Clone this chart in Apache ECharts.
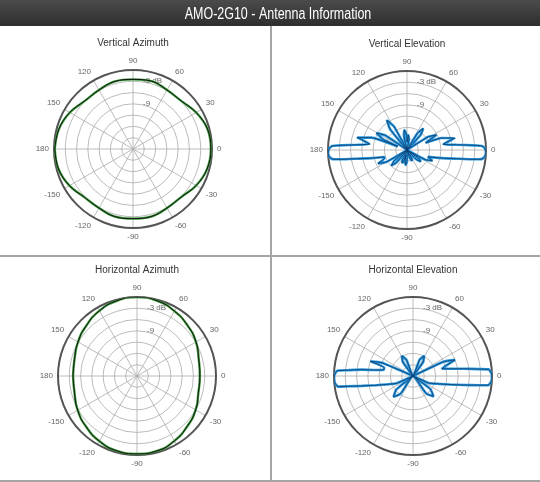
<!DOCTYPE html>
<html>
<head>
<meta charset="utf-8">
<script src="https://cdn.jsdelivr.net/npm/echarts@6/dist/echarts.min.js"></script>
<style>
html, body { margin: 0; padding: 0; background: #fff; }
#main { width: 540px; height: 482px; }
</style>
</head>
<body>
<div id="main"></div>
<script>
// azimuth plots are sampled every 15 degrees
var azAngles = [-180, -165, -150, -135, -120, -105, -90, -75, -60, -45, -30, -15,
  0, 15, 30, 45, 60, 75, 90, 105, 120, 135, 150, 165, 180]
var vaGain = [-0.2, -0.5, -1.5, -2.8, -2.9, -2.4, -2.5, -2.4, -2.9, -2.9, -1.6, -0.6,
  -0.3, -0.5, -1.6, -2.9, -2.9, -2.3, -2.5, -2.4, -2.9, -2.9, -1.6, -0.6, -0.2]
var haGain = [-4.0, -3.8, -2.8, -1.9, -1.0, -0.4, -0.3, -0.4, -1.1, -2.1, -3.0, -4.1,
  -4.3, -4.0, -2.9, -2.0, -1.1, -0.3, 0, -0.3, -1.0, -2.0, -2.9, -3.8, -4.0]

// elevation plots, lobes
var veAngles = [-180, -178, -175, -173, -172, -170, -167, -163, -160, -155, -150, -146,
  -140, -135, -130, -126, -115, -110, -105, -102, -100, -95, -90, -86, -75, -70, -65, -60, -55,
  -49, -45, -40, -35, -31, -28, -23, -18, -17, -13, -10, -8, -7, -5, -2, 1, 3, 4, 6, 9,
  14, 19, 21, 27, 32, 36, 44, 48, 53, 58, 62, 76, 80, 85, 89, 92, 97, 102, 106,
  115, 119, 124, 129, 133, 142, 146, 151, 156, 159, 161, 166, 171, 174, 176, 177, 179, 180]
var veGain = [-0.13, 0, -0.27, -1.06, -3.19, -7.71, -11.43, -14.62, -14.62, -12.49, -14.62, -21,
  -16.61, -15.15, -16.61, -21, -18.21, -17.28, -18.21, -19.67, -18.08, -17.01, -18.08, -21, -21, -18.61, -17.81, -18.61, -21,
  -21, -17.41, -16.22, -17.41, -21, -15.52, -13.69, -15.15, -14.62, -11.43, -7.71, -3.19, -1.06, -0.27, 0, -0.27, -1.06, -3.19, -7.71, -11.22,
  -7.98, -11.22, -15.68, -12.23, -14.43, -21, -21, -15.68, -13.82, -15.68, -21, -21, -18.08, -17.01, -18.87, -17.01, -15.68, -17.01, -21,
  -21, -13.82, -11.43, -13.82, -21, -21, -14.09, -11.7, -14.09, -18.34, -10.9, -7.44, -10.9, -7.71, -3.19, -1.06, -0.27, -0.13]

var heAngles = [-180, -178, -175, -173, -172, -171, -169, -166, -162, -156, -150,
  -147, -141, -133, -125, -119, -59, -53, -45, -37, -31, -24, -17, -13, -10, -8, -7, -6, -4, -1,
  2, 4, 5, 6, 8, 11, 14, 17, 21, 25, 28, 48, 54, 61, 68, 74, 106, 112, 119, 126, 132,
  153, 157, 161, 164, 168, 171, 173, 175, 176, 177, 179, 180]
var heGain = [-0.05, 0, -0.13, -0.53, -0.8, -3.46, -7.18, -10.9, -13.82, -16.22, -21,
  -21, -15.31, -13.42, -15.31, -21, -21, -15.21, -13.29, -15.21, -21, -16.48, -13.82, -10.9, -7.18, -3.46, -0.8, -0.53, -0.13, 0,
  -0.13, -0.53, -0.8, -3.46, -7.18, -10.9, -13.03, -12.02, -9.04, -12.02, -21, -21, -16.4, -14.89, -16.4, -21, -21, -16.4, -14.89, -16.4, -21,
  -21, -12.02, -9.04, -13.03, -13.03, -10.9, -7.18, -3.46, -0.8, -0.53, -0.13, -0.05]

var panelTitles = ['Vertical Azimuth', 'Vertical Elevation', 'Horizontal Azimuth', 'Horizontal Elevation']
var centers = [[133, 149], [407, 150], [137, 376], [413, 376]]

function toPairs(angles, gain) {
  // angle axis runs 90..450 so the radius labels sit on the 90 spoke
  return angles.map(function(a, i) {
    return [gain[i], a < 90 ? a + 360 : a]
  })
}

var gridColor = '#ababab'
var polar = []
var angleAxis = []
var radiusAxis = []
centers.forEach(function(c, i) {
  polar.push({ center: c, radius: 79 })
  angleAxis.push({
    polarIndex: i,
    type: 'value',
    min: 90,
    max: 450,
    interval: 30,
    startAngle: 90,
    clockwise: false,
    axisLine: { lineStyle: { color: '#555', width: 2 } },
    axisTick: { show: false },
    axisLabel: {
      margin: 5,
      color: '#666',
      fontSize: 8,
      fontFamily: 'Liberation Sans',
      formatter: function(v) { return String(v > 180 ? v - 360 : v) }
    },
    splitLine: { lineStyle: { color: gridColor, width: 0.8 } }
  })
  radiusAxis.push({
    polarIndex: i,
    type: 'value',
    min: -21,
    max: 0,
    interval: 3,
    axisLine: { show: false },
    axisTick: { show: false },
    axisLabel: {
      margin: -10,
      align: 'left',
      color: '#666',
      fontSize: 8,
      fontFamily: 'Liberation Sans',
      formatter: function(v) { return v === -3 ? '-3 dB' : (v === -9 ? '-9' : '') }
    },
    splitLine: { lineStyle: { color: gridColor, width: 0.8 } }
  })
})

function lineSeries(idx, data, color, width, smooth) {
  return {
    type: 'line',
    coordinateSystem: 'polar',
    polarIndex: idx,
    data: data,
    symbol: 'none',
    smooth: smooth,
    silent: true,
    animation: false,
    lineStyle: { color: color, width: width }
  }
}

var vaData = toPairs(azAngles, vaGain)
var haData = toPairs(azAngles, haGain)
var veData = toPairs(veAngles, veGain)
var heData = toPairs(heAngles, heGain)

var series = [
  lineSeries(0, vaData, '#3d9b3d', 2.4, 0.4),
  lineSeries(0, vaData, '#111', 1, 0.4),
  lineSeries(1, veData, '#2f9be0', 2.6, 0.15),
  lineSeries(1, veData, '#0b3c6e', 0.9, 0.15),
  lineSeries(2, haData, '#3d9b3d', 2.4, 0.5),
  lineSeries(2, haData, '#111', 1, 0.5),
  lineSeries(3, heData, '#2f9be0', 2.6, 0.15),
  lineSeries(3, heData, '#0b3c6e', 0.9, 0.15)
]

var graphic = [
  {
    type: 'rect',
    shape: { x: 0, y: 0, width: 540, height: 26 },
    style: {
      fill: new echarts.graphic.LinearGradient(0, 0, 0, 1, [
        { offset: 0, color: '#4b4b4b' },
        { offset: 1, color: '#2e2e2e' }
      ])
    }
  },
  {
    type: 'text',
    x: 278,
    y: 15,
    scaleX: 0.78,
    style: {
      text: 'AMO-2G10 - Antenna Information',
      fill: '#fff',
      font: '16px "Liberation Sans", Arial, sans-serif',
      align: 'center',
      verticalAlign: 'middle'
    }
  },
  { type: 'line', shape: { x1: 271, y1: 26, x2: 271, y2: 482 }, style: { stroke: '#a5a5a5', lineWidth: 2 } },
  { type: 'line', shape: { x1: 0, y1: 256, x2: 540, y2: 256 }, style: { stroke: '#a5a5a5', lineWidth: 2 } },
  { type: 'line', shape: { x1: 0, y1: 481, x2: 540, y2: 481 }, style: { stroke: '#a5a5a5', lineWidth: 2 } }
]
panelTitles.forEach(function(t, i) {
  graphic.push({
    type: 'text',
    x: centers[i][0],
    y: centers[i][1] - 106,
    style: {
      text: t,
      fill: '#333',
      font: '10px "Liberation Sans", Arial, sans-serif',
      align: 'center',
      verticalAlign: 'middle'
    }
  })
})

var chart = echarts.init(document.getElementById('main'))
chart.setOption({
  backgroundColor: '#fff',
  animation: false,
  polar: polar,
  angleAxis: angleAxis,
  radiusAxis: radiusAxis,
  graphic: graphic,
  series: series
})
</script>
</body>
</html>
